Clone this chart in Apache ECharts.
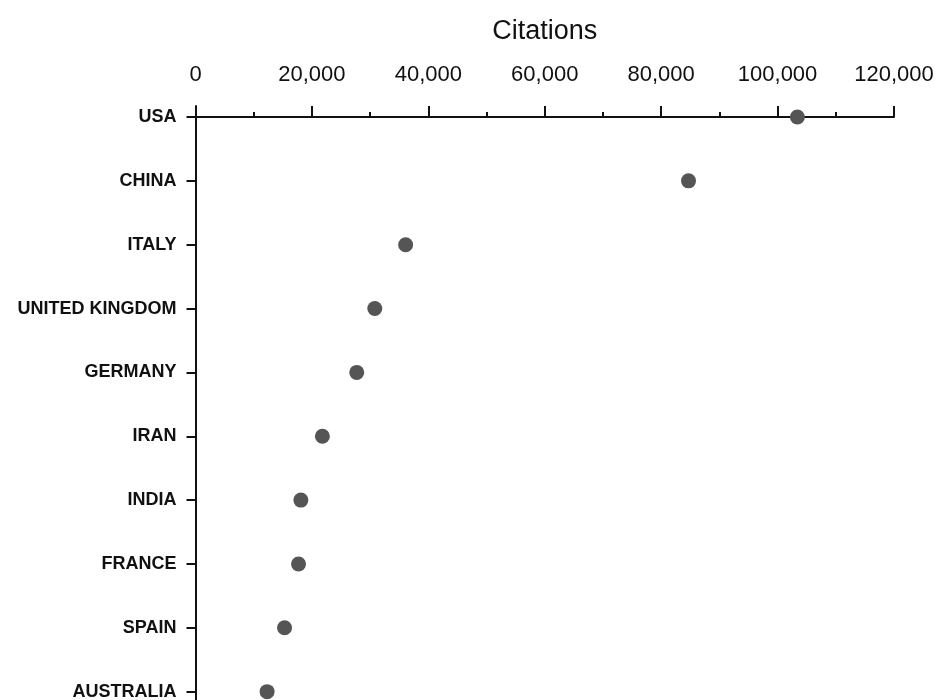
<!DOCTYPE html>
<html>
<head>
<meta charset="utf-8">
<script src="https://cdn.jsdelivr.net/npm/echarts@6/dist/echarts.min.js"></script>
<style>html,body{margin:0;padding:0;background:#fff;}#chart{width:935px;height:700px;}</style>
</head>
<body>
<div id="chart"></div>
<script>
var countries = ["USA", "CHINA", "ITALY", "UNITED KINGDOM", "GERMANY", "IRAN", "INDIA", "FRANCE", "SPAIN", "AUSTRALIA"];
var citations = [103400, 84700, 36100, 30800, 27700, 21800, 18100, 17700, 15300, 12300];
var xTicks = [0, 20000, 40000, 60000, 80000, 100000, 120000];

var idx = countries.map(function (c, i) { return i; });
var chart = echarts.init(document.getElementById('chart'));
chart.setOption({
  animation: false,
  backgroundColor: '#ffffff',
  grid: { left: 195.5, right: 41, top: 106, height: 614, containLabel: false, outerBoundsMode: 'none' },
  xAxis: {
    type: 'value',
    position: 'top',
    min: xTicks[0],
    max: xTicks[xTicks.length - 1],
    interval: 20000,
    name: 'Citations',
    nameLocation: 'middle',
    nameGap: 61,
    nameTextStyle: { fontFamily: 'Liberation Sans, Arial, sans-serif', fontSize: 27, color: '#111' },
    axisLine: { show: true, lineStyle: { color: '#111', width: 2 } },
    axisTick: { show: true, length: 11, lineStyle: { color: '#111', width: 2 } },
    minorTick: { show: true, splitNumber: 2, length: 5, lineStyle: { color: '#111', width: 2 } },
    axisLabel: {
      margin: 20,
      fontFamily: 'Liberation Sans, Arial, sans-serif',
      fontSize: 22,
      color: '#111',
      formatter: function (v) { return v.toLocaleString('en-US'); }
    },
    splitLine: { show: false }
  },
  yAxis: {
    type: 'value',
    inverse: true,
    min: -0.1723,
    max: 9.444,
    axisLine: { show: true, onZero: false, lineStyle: { color: '#111', width: 2 } },
    axisTick: { show: true, length: 9, customValues: idx, lineStyle: { color: '#111', width: 2 } },
    axisLabel: {
      margin: 19,
      customValues: idx,
      fontFamily: 'Liberation Sans, Arial, sans-serif',
      fontSize: 18,
      fontWeight: 'bold',
      color: '#111',
      formatter: function (v) { return countries[Math.round(v)] || ''; }
    },
    splitLine: { show: false }
  },
  series: [{
    type: 'scatter',
    symbol: 'circle',
    symbolSize: 15,
    itemStyle: { color: '#555555', opacity: 1 },
    data: citations.map(function (v, i) { return [v, i]; })
  }]
});
</script>
</body>
</html>
